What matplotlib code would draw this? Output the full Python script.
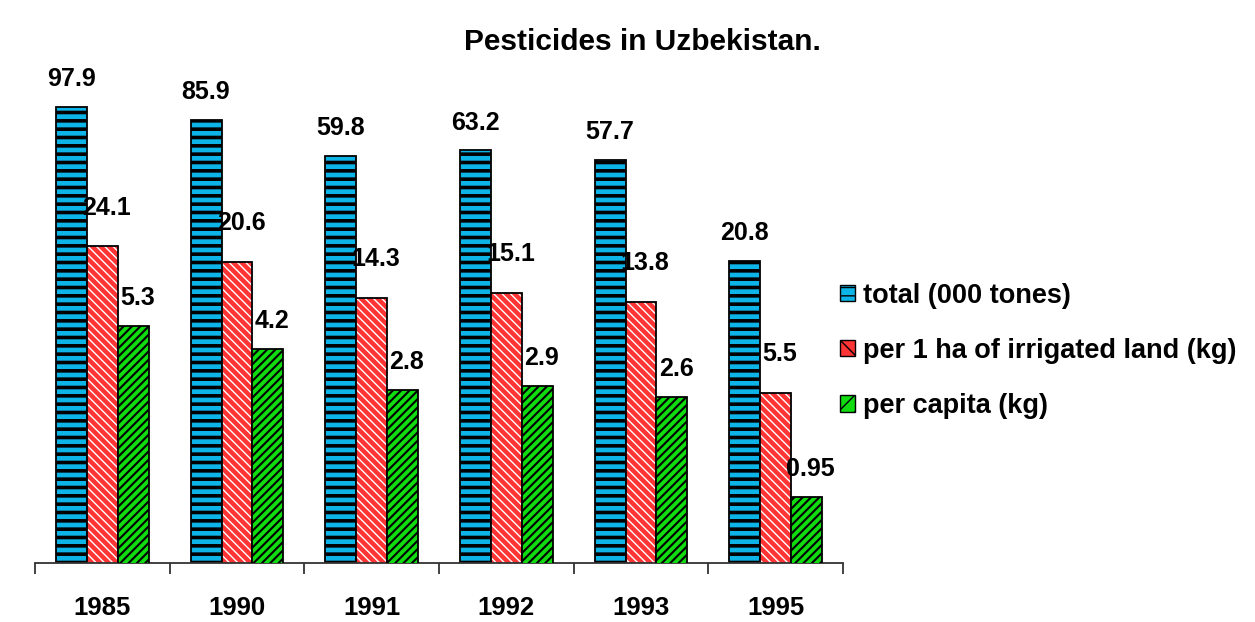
import matplotlib
matplotlib.use("Agg")
import matplotlib.pyplot as plt
import numpy as np
from matplotlib.patches import Patch

plt.rcParams["font.family"] = ["Liberation Sans", "DejaVu Sans"]
plt.rcParams["font.weight"] = "bold"

years = ["1985", "1990", "1991", "1992", "1993", "1995"]
total = [97.9, 85.9, 59.8, 63.2, 57.7, 20.8]
per_ha = [24.1, 20.6, 14.3, 15.1, 13.8, 5.5]
per_capita = [5.3, 4.2, 2.8, 2.9, 2.6, 0.95]
total_lbl = ["97.9", "85.9", "59.8", "63.2", "57.7", "20.8"]
per_ha_lbl = ["24.1", "20.6", "14.3", "15.1", "13.8", "5.5"]
per_capita_lbl = ["5.3", "4.2", "2.8", "2.9", "2.6", "0.95"]

blue = "#0cb4e8"
red = "#ff3434"
green = "#10dc10"

fig = plt.figure(figsize=(12.55, 6.22), dpi=100)
ax = fig.add_axes([0.0279, 0.0949, 0.6438, 0.8087])
ax2 = ax.twinx()

x = np.arange(len(years))
w = 0.23

# total, on the main (log) axis
with plt.rc_context({"hatch.linewidth": 2.6}):
    ax.bar(x - w, total, w, color=blue, edgecolor="black",
           linewidth=1.3, hatch="--")
# per ha: white hatch, then black outline on top
with plt.rc_context({"hatch.linewidth": 1.0}):
    ax.bar(x, per_ha, w, color=red, edgecolor="white",
           linewidth=0, hatch="\\\\\\\\")
ax.bar(x, per_ha, w, fill=False, edgecolor="black", linewidth=1.3)
# per capita on its own log scale
with plt.rc_context({"hatch.linewidth": 1.5}):
    ax2.bar(x + w, per_capita, w, color=green,
            edgecolor="black", linewidth=1.3, hatch="////")

ax.set_yscale("log")
ax2.set_yscale("log")
ax.set_ylim(1, 157)
ax2.set_ylim(0.49, 77)
ax.set_xlim(-0.5, len(years) - 0.5)

for a in (ax, ax2):
    for s in ("left", "right", "top"):
        a.spines[s].set_visible(False)
    a.set_yticks([])
    a.yaxis.set_minor_locator(plt.NullLocator())
ax2.spines["bottom"].set_visible(False)
ax.spines["bottom"].set_linewidth(1.3)
ax.spines["bottom"].set_color("#333333")
ax.spines["bottom"].set_zorder(5)

ax.set_xticks(x)
ax.set_xticklabels(years, fontsize=18.5, fontweight="bold")
ax.tick_params(axis="x", which="major", length=0, pad=24)
ax.set_xticks(np.arange(-0.5, len(years)), minor=True)
ax.tick_params(axis="x", which="minor", length=8, width=1.3, color="#333333")

def put_labels(a, xs, vals, labels, dx, dy):
    for xi, v, t in zip(xs, vals, labels):
        a.annotate(t, (xi, v), xytext=(dx, dy), textcoords="offset points",
                   ha="center", va="center", fontsize=18, fontweight="bold")

put_labels(ax, x - w, total, total_lbl, 0, 20)
put_labels(ax, x, per_ha, per_ha_lbl, 3, 28)
put_labels(ax2, x + w, per_capita, per_capita_lbl, 3, 20)

fig.text(0.512, 0.932, "Pesticides in Uzbekistan.", ha="center", va="center",
         fontsize=21.5, fontweight="bold")

handles = [
    Patch(facecolor=blue, edgecolor="black", hatch="--", label="total (000 tones)"),
    Patch(facecolor=red, edgecolor="black", hatch="\\\\", label="per 1 ha of irrigated land (kg)"),
    Patch(facecolor=green, edgecolor="black", hatch="//", label="per capita (kg)"),
]
fig.legend(handles=handles, loc="center left", bbox_to_anchor=(0.650, 0.436),
           frameon=False, handlelength=0.55, handleheight=0.55,
           handletextpad=0.3, labelspacing=1.08,
           prop={"weight": "bold", "size": 19.5})

fig.savefig("out.png", dpi=100)
